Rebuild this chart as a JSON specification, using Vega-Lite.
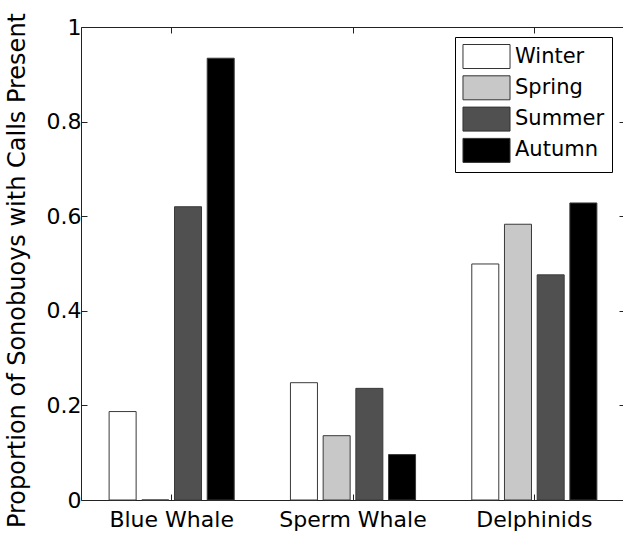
{
  "$schema": "https://vega.github.io/schema/vega-lite/v6.json",
  "width": 544,
  "height": 473,
  "autosize": "none",
  "padding": {"left": 81, "top": 27, "right": 0, "bottom": 34},
  "background": "white",
  "config": {
    "view": {"stroke": null},
    "font": "DejaVu Sans",
    "axis": {
      "domainColor": "#222222",
      "domainWidth": 1,
      "tickColor": "#222222",
      "tickWidth": 1,
      "tickSize": -6,
      "grid": false,
      "labelFont": "DejaVu Sans",
      "labelFontSize": 22,
      "labelColor": "black",
      "titleFont": "DejaVu Sans",
      "titleFontSize": 24,
      "titleFontWeight": "normal",
      "titleColor": "black"
    },
    "legend": {
      "orient": "none",
      "legendX": 374,
      "legendY": 10,
      "symbolType": "M-1.96,-1H1.96V1H-1.96Z",
      "symbolSize": 576,
      "symbolStrokeColor": "#333333",
      "symbolStrokeWidth": 1,
      "symbolOpacity": 1,
      "labelFont": "DejaVu Sans",
      "labelFontSize": 21,
      "labelColor": "black",
      "labelOffset": 16,
      "symbolOffset": 12,
      "padding": 7,
      "rowPadding": 2.3,
      "strokeColor": "black",
      "fillColor": "white",
      "cornerRadius": 0
    }
  },
  "data": {
    "values": [
      {"species": "Blue Whale", "season": "Winter", "proportion": 0.187},
      {"species": "Blue Whale", "season": "Spring", "proportion": 0},
      {"species": "Blue Whale", "season": "Summer", "proportion": 0.62},
      {"species": "Blue Whale", "season": "Autumn", "proportion": 0.934},
      {"species": "Sperm Whale", "season": "Winter", "proportion": 0.248},
      {"species": "Sperm Whale", "season": "Spring", "proportion": 0.136},
      {"species": "Sperm Whale", "season": "Summer", "proportion": 0.236},
      {"species": "Sperm Whale", "season": "Autumn", "proportion": 0.096},
      {"species": "Delphinids", "season": "Winter", "proportion": 0.499},
      {"species": "Delphinids", "season": "Spring", "proportion": 0.583},
      {"species": "Delphinids", "season": "Summer", "proportion": 0.476},
      {"species": "Delphinids", "season": "Autumn", "proportion": 0.628}
    ]
  },
  "resolve": {"axis": {"x": "independent", "y": "independent"}},
  "layer": [
    {
      "mark": {"type": "bar", "stroke": "#3a3a3a", "strokeWidth": 1},
      "encoding": {
        "x": {
          "field": "species", "type": "nominal",
          "sort": ["Blue Whale", "Sperm Whale", "Delphinids"],
          "scale": {"paddingInner": 0, "paddingOuter": 0},
          "axis": {"orient": "bottom", "title": null, "labelAngle": 0, "labelPadding": 15}
        },
        "xOffset": {
          "field": "season", "type": "nominal",
          "sort": ["Winter", "Spring", "Summer", "Autumn"],
          "scale": {"paddingInner": 0.174, "paddingOuter": 0.86}
        },
        "y": {
          "field": "proportion", "type": "quantitative",
          "scale": {"domain": [0, 1], "nice": false},
          "axis": {
            "orient": "left",
            "values": [0, 0.2, 0.4, 0.6, 0.8, 1],
            "format": "~g",
            "title": "Proportion of Sonobuoys with Calls Present",
            "labelPadding": 6,
            "titleX": -52,
            "titleBaseline": "bottom",
            "titleY": 243
          }
        },
        "fill": {
          "field": "season", "type": "nominal",
          "sort": ["Winter", "Spring", "Summer", "Autumn"],
          "scale": {"domain": ["Winter", "Spring", "Summer", "Autumn"], "range": ["#ffffff", "#c8c8c8", "#505050", "#000000"]},
          "legend": {"title": null}
        }
      }
    },
    {
      "mark": {"type": "bar", "opacity": 0},
      "encoding": {
        "x": {
          "field": "species", "type": "nominal",
          "sort": ["Blue Whale", "Sperm Whale", "Delphinids"],
          "axis": {"orient": "top", "title": null, "labels": false}
        },
        "y": {
          "field": "proportion", "type": "quantitative",
          "axis": {"orient": "right", "values": [0, 0.2, 0.4, 0.6, 0.8, 1], "labels": false, "title": null}
        }
      }
    }
  ]
}
